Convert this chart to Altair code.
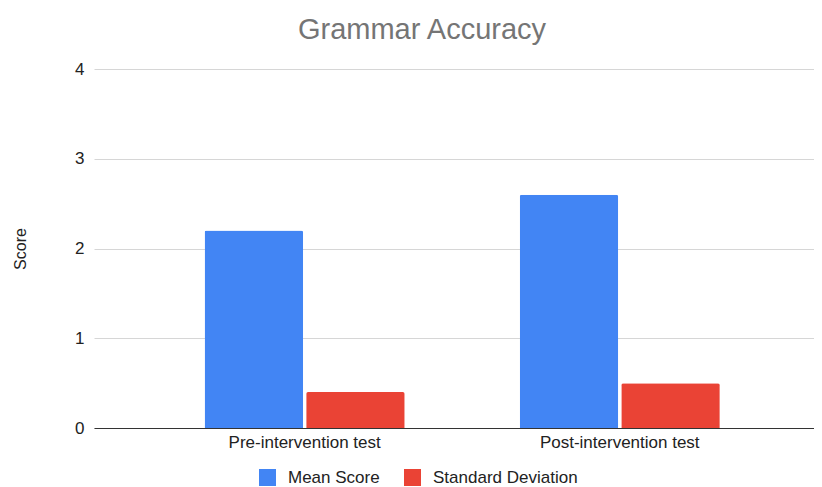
import altair as alt
import pandas as pd

tests = ["Pre-intervention test", "Post-intervention test"]
series = ["Mean Score", "Standard Deviation"]
mean_scores = [2.2, 2.6]
std_devs = [0.4, 0.5]
colors = ["#4285F4", "#EA4335"]

rows = []
for t, m, s in zip(tests, mean_scores, std_devs):
    rows.append({"Test": t, "Series": series[0], "Score": m})
    rows.append({"Test": t, "Series": series[1], "Score": s})
df = pd.DataFrame(rows)

FONT = "Liberation Sans"

chart = alt.Chart(df).mark_bar(
    cornerRadiusTopLeft=2, cornerRadiusTopRight=2
).encode(
    x=alt.X("Test:N", sort=tests, title=None,
            scale=alt.Scale(paddingInner=0.365, paddingOuter=0.325, align=0.54),
            axis=alt.Axis(labelAngle=0, labelFontSize=17, labelColor="#222222",
                          labelFont=FONT, ticks=False, domainColor="#333333",
                          labelPadding=6, grid=False)),
    xOffset=alt.XOffset("Series:N", sort=series,
                        scale=alt.Scale(paddingInner=0.03, paddingOuter=0)),
    y=alt.Y("Score:Q", title="Score",
            scale=alt.Scale(domain=[0, 4], nice=False),
            axis=alt.Axis(values=[0, 1, 2, 3, 4], format="d", labelFontSize=17,
                          labelColor="#222222", labelFont=FONT, ticks=False,
                          domain=False, gridColor="#d6d6d6", labelPadding=10,
                          titleFont=FONT, titleFontSize=16, titleFontWeight="normal",
                          titleColor="#222222", titlePadding=46)),
    color=alt.Color("Series:N", sort=series,
                    scale=alt.Scale(domain=series, range=colors),
                    legend=alt.Legend(title=None, orient="none", direction="horizontal",
                                      legendX=165, legendY=400, symbolType="square",
                                      symbolSize=289, symbolStrokeWidth=0,
                                      labelFont=FONT, labelFontSize=17,
                                      labelColor="#222222", labelOffset=12,
                                      columnPadding=24)),
).properties(
    width=720,
    height=359,
    title=alt.TitleParams("Grammar Accuracy", font=FONT, fontSize=29,
                          fontWeight="normal", color="#757575",
                          anchor="middle", dx=-32, offset=15),
    autosize=alt.AutoSizeParams(type="none"),
    padding={"left": 86, "top": 61, "right": 0, "bottom": 60},
).configure_view(stroke=None)

chart.save("out.html", embed_options={"renderer": "svg", "actions": False})
